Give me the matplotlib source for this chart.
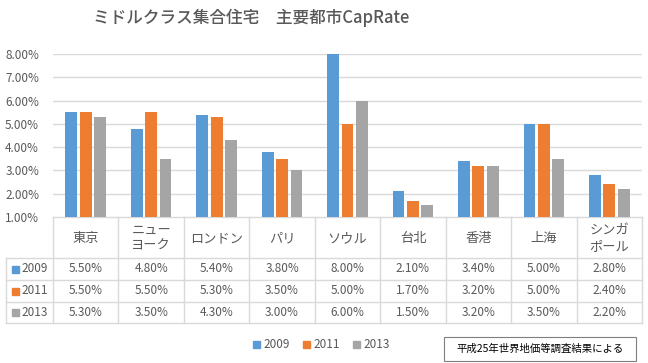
import matplotlib.pyplot as plt
import numpy as np
from matplotlib.patches import Rectangle

plt.rcParams['font.family'] = ['Noto Sans CJK JP', 'DejaVu Sans']

cities = ['東京', 'ニュー\nヨーク', 'ロンドン', 'パリ', 'ソウル', '台北', '香港', '上海', 'シンガ\nポール']
years = ['2009', '2011', '2013']
r2009 = [5.5, 4.8, 5.4, 3.8, 8.0, 2.1, 3.4, 5.0, 2.8]
r2011 = [5.5, 5.5, 5.3, 3.5, 5.0, 1.7, 3.2, 5.0, 2.4]
r2013 = [5.3, 3.5, 4.3, 3.0, 6.0, 1.5, 3.2, 3.5, 2.2]
series = [r2009, r2011, r2013]
colors = ['#5B9BD5', '#ED7D31', '#A5A5A5']
txt = '#595959'
grid = '#D9D9D9'

W, H = 648, 363
fig = plt.figure(figsize=(W / 100, H / 100), dpi=100)

# 棒グラフ部分 (ピクセル位置: x 53-642, y 54-217)
px0, px1, py_top, py_bot = 53, 642, 54, 217
ax = fig.add_axes([px0 / W, (H - py_bot) / H, (px1 - px0) / W, (py_bot - py_top) / H])
x = np.arange(len(cities))
bw = 0.18
step = 0.22
for k, (vals, c) in enumerate(zip(series, colors)):
    v = np.array(vals)
    ax.bar(x + (k - 1) * step, v - 1.0, bottom=1.0, width=bw, color=c, zorder=3)
ax.set_xlim(-0.5, len(cities) - 0.5)
ax.set_ylim(1.0, 8.0)
ax.set_yticks(np.arange(1, 9))
ax.set_yticklabels(['%.2f%%' % t for t in range(1, 9)], fontsize=8.5, color=txt)
ax.set_xticks([])
ax.tick_params(axis='y', length=0, pad=10)
for t in range(2, 9):
    ax.axhline(t, color=grid, lw=1, zorder=1)
for s in ax.spines.values():
    s.set_visible(False)
ax.patch.set_alpha(0)

# データテーブル (ピクセル座標の重ね軸)
ov = fig.add_axes([0, 0, 1, 1], zorder=-1)
ov.set_xlim(0, W)
ov.set_ylim(H, 0)
ov.axis('off')
cw = (px1 - px0) / len(cities)
rows_y = [217, 258, 280, 302, 323]
left = 6
ov.plot([px0, px1], [rows_y[0], rows_y[0]], color=grid, lw=1)
for yy in rows_y[1:]:
    ov.plot([left, px1], [yy, yy], color=grid, lw=1)
ov.plot([left, left], [rows_y[1], rows_y[-1]], color=grid, lw=1)
for i in range(len(cities) + 1):
    xx = px0 + i * cw
    ov.plot([xx, xx], [rows_y[0], rows_y[-1]], color=grid, lw=1)

for i, name in enumerate(cities):
    cx = px0 + (i + 0.5) * cw
    ov.text(cx, (rows_y[0] + rows_y[1]) / 2 + 1, name, ha='center', va='center',
            fontsize=9.5, color=txt, linespacing=1.25)
    for k, vals in enumerate(series):
        cy = (rows_y[k + 1] + rows_y[k + 2]) / 2
        ov.text(cx, cy, '%.2f%%' % vals[i], ha='center', va='center', fontsize=8.5, color=txt)

for k, (yr, c) in enumerate(zip(years, colors)):
    cy = (rows_y[k + 1] + rows_y[k + 2]) / 2
    ov.add_patch(Rectangle((12, cy - 3.5), 7, 7, color=c))
    ov.text(21, cy, yr, ha='left', va='center', fontsize=8.5, color=txt)

# 凡例
lx = [253, 303, 353]
for k, (yr, c) in enumerate(zip(years, colors)):
    ov.add_patch(Rectangle((lx[k], 344 - 3.5), 7, 7, color=c))
    ov.text(lx[k] + 10, 344, yr, ha='left', va='center', fontsize=8.5, color=txt)

# 出典ボックス
ov.add_patch(Rectangle((444, 337), 192, 24, fill=False, edgecolor='#7F7F7F', lw=0.8))
ov.text(540, 349, '平成25年世界地価等調査結果による', ha='center', va='center',
        fontsize=7.5, color='black')

# タイトル
ov.text(251, 18, 'ミドルクラス集合住宅\u3000主要都市CapRate', ha='center', va='center',
        fontsize=12, color=txt, fontweight='medium')

fig.savefig('out.png', dpi=100)
